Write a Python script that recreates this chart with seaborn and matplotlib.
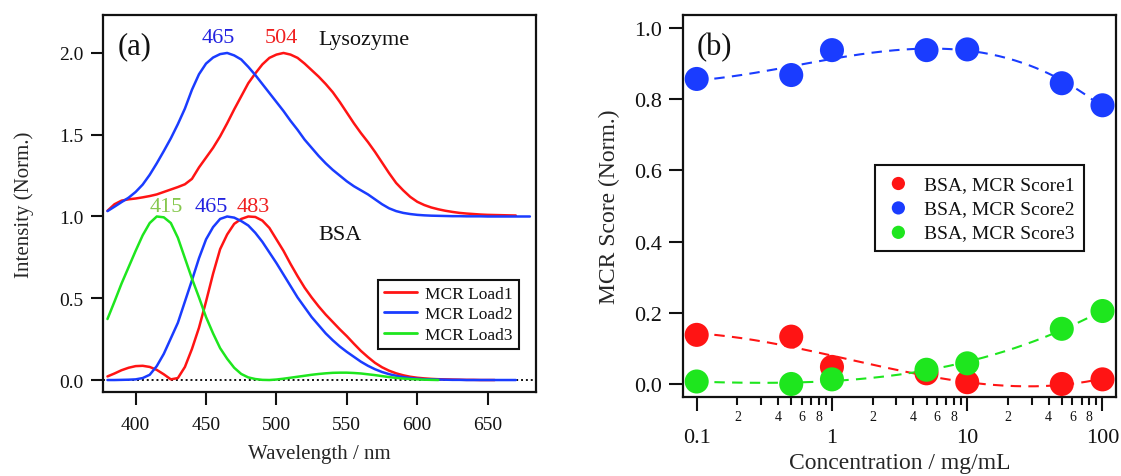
import numpy as np
import pandas as pd
import matplotlib
matplotlib.use("Agg")
import matplotlib.pyplot as plt
import seaborn as sns
from matplotlib.ticker import FixedLocator, FuncFormatter

# ---------------- data: panel (a) spectra ----------------
wavelength = np.arange(380, 681, 5)
nan = np.nan
lyso_load1 = [1.035, 1.075, 1.097, 1.105, 1.110, 1.117, 1.125, 1.135, 1.150, 1.165,
              1.180, 1.197, 1.230, 1.300, 1.360, 1.420, 1.490, 1.570, 1.655, 1.735,
              1.815, 1.875, 1.930, 1.970, 1.990, 2.000, 1.990, 1.970, 1.935, 1.895,
              1.855, 1.810, 1.760, 1.700, 1.635, 1.570, 1.510, 1.455, 1.395, 1.330,
              1.265, 1.205, 1.160, 1.120, 1.090, 1.070, 1.055, 1.044, 1.035, 1.028,
              1.022, 1.018, 1.015, 1.012, 1.010, 1.009, 1.008, 1.007, 1.006, nan, nan]
lyso_load2 = [1.033, 1.060, 1.088, 1.115, 1.150, 1.195, 1.255, 1.325, 1.400, 1.478,
              1.565, 1.660, 1.775, 1.870, 1.935, 1.972, 1.993, 2.000, 1.985, 1.960,
              1.915, 1.865, 1.810, 1.755, 1.700, 1.645, 1.585, 1.530, 1.470, 1.420,
              1.370, 1.325, 1.285, 1.250, 1.215, 1.185, 1.160, 1.135, 1.105, 1.075,
              1.050, 1.033, 1.022, 1.015, 1.010, 1.007, 1.005, 1.004, 1.003, 1.002,
              1.002, 1.001, 1.001, 1.001, 1.000, 1.000, 1.000, 1.000, 1.000, 1.000, 1.000]
bsa_load1 = [0.022, 0.040, 0.060, 0.075, 0.085, 0.087, 0.080, 0.062, 0.035, 0.004,
             0.012, 0.080, 0.190, 0.320, 0.480, 0.650, 0.800, 0.890, 0.955, 0.985,
             1.000, 0.997, 0.975, 0.930, 0.860, 0.790, 0.710, 0.635, 0.565, 0.505,
             0.450, 0.400, 0.355, 0.310, 0.268, 0.222, 0.178, 0.140, 0.105, 0.078,
             0.057, 0.041, 0.029, 0.020, 0.014, 0.010, 0.007, 0.005, 0.004, 0.003,
             0.002, 0.001, 0.001, 0.000, 0.000, 0.000, nan, nan, nan, nan, nan]
bsa_load2 = [0.000, 0.000, 0.001, 0.002, 0.004, 0.012, 0.032, 0.085, 0.160, 0.255,
             0.350, 0.480, 0.610, 0.745, 0.860, 0.935, 0.985, 1.000, 0.993, 0.972,
             0.945, 0.900, 0.845, 0.780, 0.715, 0.645, 0.575, 0.505, 0.445, 0.385,
             0.335, 0.285, 0.243, 0.205, 0.172, 0.142, 0.112, 0.087, 0.066, 0.049,
             0.036, 0.026, 0.018, 0.012, 0.008, 0.005, 0.004, 0.003, 0.002, 0.001,
             0.001, 0.000, 0.000, 0.000, 0.000, 0.000, 0.000, 0.000, 0.000, nan, nan]
bsa_load3 = [0.373, 0.480, 0.590, 0.690, 0.790, 0.885, 0.960, 1.000, 0.995, 0.960,
             0.870, 0.745, 0.620, 0.505, 0.385, 0.285, 0.195, 0.130, 0.075, 0.037,
             0.016, 0.006, 0.001, 0.000, 0.003, 0.008, 0.014, 0.020, 0.026, 0.032,
             0.037, 0.041, 0.044, 0.045, 0.045, 0.043, 0.040, 0.035, 0.030, 0.024,
             0.018, 0.013, 0.009, 0.006, 0.004, 0.002, 0.001, 0.000, nan, nan,
             nan, nan, nan, nan, nan, nan, nan, nan, nan, nan, nan]
load_labels = ["MCR Load1", "MCR Load2", "MCR Load3"]
peak_labels_lyso = ["465", "504"]
peak_labels_bsa = ["415", "465", "483"]
baseline_value = 0.0

# ---------------- data: panel (b) scores ----------------
concentration = [0.1, 0.5, 1, 5, 10, 50, 100]
score1 = [0.138, 0.133, 0.048, 0.030, 0.005, 0.000, 0.013]
score2 = [0.857, 0.868, 0.938, 0.938, 0.940, 0.845, 0.783]
score3 = [0.007, 0.000, 0.013, 0.040, 0.058, 0.155, 0.205]
score_labels = ["BSA, MCR Score1", "BSA, MCR Score2", "BSA, MCR Score3"]
major_conc_ticks = [0.1, 1, 10, 100]

# ---------------- style ----------------
sns.set_theme(style="ticks")
plt.rcParams["font.family"] = ["Liberation Serif", "DejaVu Serif"]
plt.rcParams["axes.linewidth"] = 1.6
plt.rcParams["axes.edgecolor"] = "#111111"
plt.rcParams["text.color"] = "#111111"
plt.rcParams["xtick.color"] = "#111111"
plt.rcParams["ytick.color"] = "#111111"

RED = "#ff1414"
BLUE = "#1a3cff"
GREEN = "#1ee61e"

fig = plt.figure(figsize=(11.21, 4.77), dpi=100)
ax1 = fig.add_axes([0.0916, 0.1755, 0.3865, 0.7916])
ax2 = fig.add_axes([0.609, 0.165, 0.3866, 0.802])

# ---------------- panel (a) ----------------
df = pd.DataFrame({"wl": wavelength, "lyso1": lyso_load1, "lyso2": lyso_load2,
                   "bsa1": bsa_load1, "bsa2": bsa_load2, "bsa3": bsa_load3})
ax1.axhline(baseline_value, color="#111111", ls=(0, (1, 1.5)), lw=1.4, zorder=1)
for col, c in [("lyso1", RED), ("lyso2", BLUE)]:
    d = df[["wl", col]].dropna()
    sns.lineplot(data=d, x="wl", y=col, ax=ax1, color=c, lw=1.8, estimator=None,
                 sort=False, legend=False)
handles = []
for col, c, lab in [("bsa1", RED, load_labels[0]), ("bsa2", BLUE, load_labels[1]),
                    ("bsa3", GREEN, load_labels[2])]:
    d = df[["wl", col]].dropna()
    sns.lineplot(data=d, x="wl", y=col, ax=ax1, color=c, lw=1.8, estimator=None,
                 sort=False, legend=False)
    handles.append(plt.Line2D([], [], color=c, lw=2.0, label=lab))

ax1.set_xlim(376.6, 684.3)
ax1.set_ylim(-0.075, 2.234)
ax1.xaxis.set_major_locator(FixedLocator([400, 450, 500, 550, 600, 650]))
ax1.yaxis.set_major_locator(FixedLocator([0.0, 0.5, 1.0, 1.5, 2.0]))
ax1.yaxis.set_major_formatter(FuncFormatter(lambda v, p: f"{v:.1f}"))
ax1.tick_params(axis="both", direction="out", length=9, width=1.5, labelsize=14)
ax1.tick_params(axis="x", pad=8)
ax1.tick_params(axis="y", pad=5)
ax1.set_xlabel("Wavelength / nm", fontsize=15, labelpad=8)
ax1.set_ylabel("Intensity (Norm.)", fontsize=15, labelpad=18)

ax1.text(387, 2.043, "(a)", fontsize=22, ha="left", va="center")
ax1.text(459, 2.065, peak_labels_lyso[0], color="#2222e0", fontsize=16, ha="center", va="baseline")
ax1.text(503.7, 2.065, peak_labels_lyso[1], color="#f02020", fontsize=16, ha="center", va="baseline")
ax1.text(529.5, 2.055, "Lysozyme", fontsize=16, ha="left", va="baseline")
ax1.text(422, 1.032, peak_labels_bsa[0], color="#86c84e", fontsize=16, ha="center", va="baseline")
ax1.text(454, 1.032, peak_labels_bsa[1], color="#2222e0", fontsize=16, ha="center", va="baseline")
ax1.text(483.5, 1.032, peak_labels_bsa[2], color="#f02020", fontsize=16, ha="center", va="baseline")
ax1.text(529.5, 0.862, "BSA", fontsize=16, ha="left", va="baseline")

leg1 = ax1.legend(handles=handles, loc="lower right", bbox_to_anchor=(0.961, 0.1147),
                  fontsize=12.5, frameon=True, fancybox=False, edgecolor="#111111",
                  framealpha=1, handlelength=1.9, handletextpad=0.5, borderpad=0.35,
                  labelspacing=0.25, borderaxespad=0)
leg1.get_frame().set_linewidth(1.5)

# ---------------- panel (b) ----------------
dfs = pd.DataFrame({"conc": concentration, "s1": score1, "s2": score2, "s3": score3})
logc = np.log10(dfs["conc"].to_numpy())
grid = np.linspace(logc.min(), logc.max(), 200)
for col, c in [("s1", RED), ("s2", BLUE), ("s3", GREEN)]:
    coef = np.polyfit(logc, dfs[col].to_numpy(), 3)
    fit = pd.DataFrame({"conc": 10 ** grid, "fit": np.polyval(coef, grid)})
    sns.lineplot(data=fit, x="conc", y="fit", ax=ax2, color=c, lw=1.5,
                 estimator=None, sort=False, legend=False,
                 linestyle=(0, (5, 3.5)))
for col, c, lab in [("s1", RED, score_labels[0]), ("s2", BLUE, score_labels[1]),
                    ("s3", GREEN, score_labels[2])]:
    sns.scatterplot(data=dfs, x="conc", y=col, ax=ax2, color=c, s=300,
                    edgecolor="none", label=lab, zorder=3)

ax2.set_xscale("log")
ax2.set_xlim(0.0788, 126)
ax2.set_ylim(-0.0374, 1.0374)
minor_ticks = [m * d for d in major_conc_ticks[:-1] for m in range(2, 10)]
ax2.xaxis.set_major_locator(FixedLocator(major_conc_ticks))
ax2.xaxis.set_major_formatter(FuncFormatter(lambda v, p: f"{v:g}"))
ax2.xaxis.set_minor_locator(FixedLocator(minor_ticks))

def minor_fmt(v, p):
    m = v / 10 ** np.floor(np.log10(v) + 1e-9)
    d = int(round(m))
    return str(d) if d in (2, 4, 6, 8) else ""

ax2.xaxis.set_minor_formatter(FuncFormatter(minor_fmt))
ax2.yaxis.set_major_locator(FixedLocator([0.0, 0.2, 0.4, 0.6, 0.8, 1.0]))
ax2.yaxis.set_major_formatter(FuncFormatter(lambda v, p: f"{v:.1f}"))
ax2.tick_params(axis="both", which="major", direction="out", length=10, width=1.5, labelsize=16)
ax2.tick_params(axis="x", which="major", pad=12)
ax2.tick_params(axis="x", which="minor", direction="out", length=6, width=1.5,
                labelsize=10, pad=3)
ax2.tick_params(axis="y", pad=5)
ax2.set_xlabel("Concentration / mg/mL", fontsize=17, labelpad=4)
ax2.set_ylabel("MCR Score (Norm.)", fontsize=17, labelpad=10)
ax2.text(0.1, 0.949, "(b)", fontsize=22, ha="left", va="center")

h2, l2 = ax2.get_legend_handles_labels()
leg2 = ax2.legend(h2, l2, loc="lower right", bbox_to_anchor=(0.926, 0.382),
                  fontsize=14, frameon=True, fancybox=False, edgecolor="#111111",
                  framealpha=1, markerscale=0.55, handletextpad=0.6, borderpad=0.5,
                  labelspacing=0.35, borderaxespad=0, handlelength=1.4)
leg2.get_frame().set_linewidth(1.5)

fig.savefig("out.png", dpi=100)
